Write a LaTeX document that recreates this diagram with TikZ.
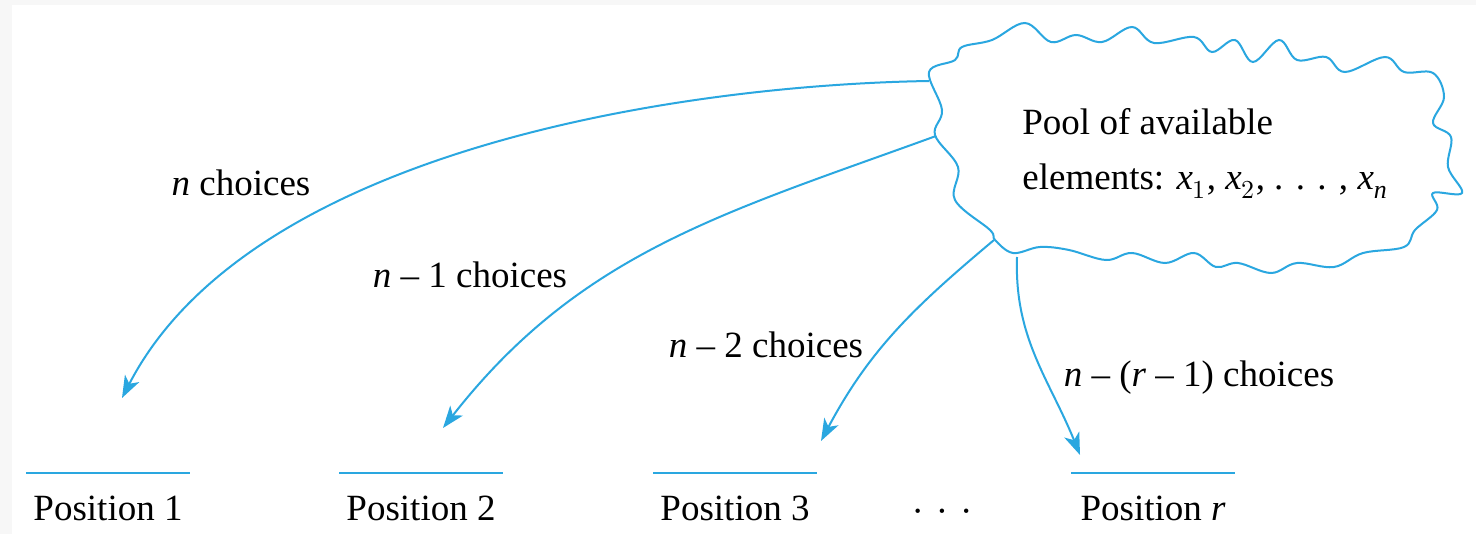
\documentclass[tikz,border=0pt]{standalone}
\usepackage{fontspec}
\setmainfont{Liberation Serif}
\usepackage{amsmath}
\usepackage{unicode-math}
\setmathfont{Latin Modern Math}
\setmathfont[range={it/{latin,Latin}}]{Liberation Serif Italic}
\usetikzlibrary{arrows.meta}
\definecolor{poolblue}{HTML}{2AA7E0}

\tikzset{
  choice/.style={draw=poolblue, line width=1pt, -{Stealth[length=11pt, width=8pt, inset=3pt]}},
  txt/.style={inner sep=0pt, font=\fontsize{18.5}{21.5}\selectfont},
  slot/.style={txt, minimum width=81.5pt},
}

\begin{document}
\begin{tikzpicture}[x=0.5pt, y=-0.5pt]
  % fond et cadre
  \useasboundingbox (0,0) rectangle (1476,534);
  \fill[black!3] (0,0) rectangle (1476,534);
  \fill[white] (12,5) rectangle (1476,534);

  % Dessinez le nuage
  \draw[poolblue, line width=1pt, fill=white] plot[smooth cycle, tension=0.6] coordinates {
    (929,72) (955,60) (962,47) (992,40) (1025,23) (1051,42) (1076,35) (1102,42)
    (1132,27) (1154,43) (1194,37) (1212,52) (1235,40) (1253,62) (1279,40) (1297,60)
    (1326,57) (1345,72) (1385,57) (1404,72) (1433,73) (1444,97) (1433,123) (1451,137)
    (1448,167) (1462,193) (1433,193) (1437,210) (1415,230) (1404,247) (1363,253)
    (1334,267) (1297,263) (1271,273) (1238,263) (1216,267) (1194,253) (1165,263)
    (1132,253) (1106,260) (1069,250) (1040,247) (1013,253) (995,240) (990,230)
    (955,200) (958,167) (935,135) (942,110)};
  \node[txt, align=left, anchor=north west] (pool) at (1022,108)
    {Pool of available\\[6pt]elements: $x_1$, $x_2$, . . . , $x_n$};

  % Points de depart sur le nuage
  \coordinate (c1) at (929,81);
  \coordinate (c2) at (936,136);
  \coordinate (c3) at (994,240);
  \coordinate (c4) at (1017,257);

  % Ajoutez les positions
  \foreach \x/\n/\t in {108/p1/Position 1, 421/p2/Position 2, 735/p3/Position 3, 1153/pr/Position $r$} {
    \node[slot] (\n) at (\x,508) {\t};
    \draw[poolblue, line width=1pt] ([yshift=11pt]\n.north west) -- ([yshift=11pt]\n.north east);
  }
  \node[txt] (dots) at (942,516) {·\hspace{6pt}·\hspace{6pt}·};

  % Pointes des fleches
  \coordinate (t1) at (122,398);
  \coordinate (t2) at (443,428);
  \coordinate (t3) at (821,441);
  \coordinate (tr) at (1080,455);

  % Dessinez les fleches
  \draw[choice] (c1) .. controls (680,85) and (250,150) .. (t1);
  \draw[choice] (c2) to[out=200, in=52] (t2);
  \draw[choice] (c3) to[out=220, in=62] (t3);
  \draw[choice] (c4) to[out=268, in=112] (tr);

  % Ajoutez les etiquettes
  \node[txt] (l1) at (241,183) {$n$ choices};
  \node[txt] (l2) at (470,275) {$n$ – 1 choices};
  \node[txt] (l3) at (766,345) {$n$ – 2 choices};
  \node[txt] (lr) at (1199,378) {$n$ – ($r$ – 1) choices};
\end{tikzpicture}
\end{document}
